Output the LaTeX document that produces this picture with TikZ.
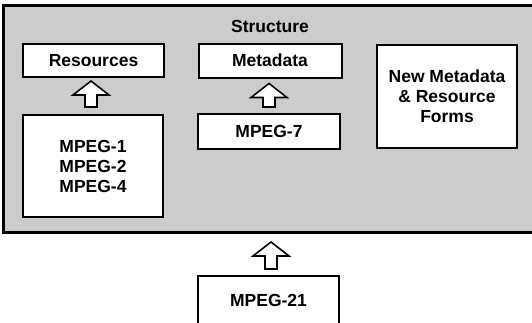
\documentclass[tikz,border=0pt]{standalone}
\usepackage{fontspec}
\setmainfont{Liberation Sans}
\usetikzlibrary{calc}
\tikzset{
  lbl/.style={font=\bfseries\fontsize{17.5}{20}\selectfont, text=black},
  wbox/.style={draw=black, line width=2pt, fill=white, inner sep=0pt, align=center,
    font=\bfseries\fontsize{17.5}{20}\selectfont},
  arrowshape/.style={draw=black, line width=1.6pt, fill=white, line join=miter},
}
\newcommand{\blockup}[2]{% #1 base coordinate, #2 tip coordinate
  \draw[arrowshape] let \p1=(#1), \p2=(#2) in
    (\x1-6pt,\y1) -- (\x1-6pt,\y2-14pt) -- (\x1-18pt,\y2-14pt) -- (\x1,\y2)
    -- (\x1+18pt,\y2-14pt) -- (\x1+6pt,\y2-14pt) -- (\x1+6pt,\y1) -- cycle;}
\begin{document}
\begin{tikzpicture}[x=1pt,y=-1pt]
\useasboundingbox (0,0) rectangle (532,322);
\clip (0,0) rectangle (532,322);
\fill[white] (0,0) rectangle (532,322);
% outer structure panel
\draw[line width=3pt, fill=gray!40] (3,5) rectangle (545,232);
\coordinate (panelbottom) at (271,232);
\node[lbl] (structure) at (270,26) {Structure};
% boxes
\node[wbox, minimum width=141pt, minimum height=33pt] (res) at (93.5,60.5) {Resources};
\node[wbox, minimum width=143pt, minimum height=34pt] (meta) at (270,60.5) {Metadata};
\node[wbox, minimum width=140pt, minimum height=103pt] (new) at (447,96.5)
  {New Metadata\\ \& Resource\\ Forms};
\node[wbox, minimum width=140pt, minimum height=102pt] (mpegA) at (93,166)
  {MPEG-1\\ MPEG-2\\ MPEG-4};
\node[wbox, minimum width=142pt, minimum height=35pt] (mpegB) at (269,131.5) {MPEG-7};
\node[wbox, minimum width=141pt, minimum height=57pt, anchor=north] (mpegC) at (268.5,275) {};
\node[lbl] (mpegCt) at (268.5,300) {MPEG-21};
% block arrows (base, tip)
\coordinate (a1b) at ($(mpegA.north)+(-2,-7)$);
\coordinate (a1t) at ($(res.south)+(-2.5,3)$);
\coordinate (a2b) at ($(mpegB.north)+(0,-6)$);
\coordinate (a2t) at ($(meta.south)+(-1,5)$);
\coordinate (a3b) at ($(mpegC.north)+(2.5,-6)$);
\coordinate (a3t) at ($(panelbottom)+(0,10)$);
\blockup{a1b}{a1t}
\blockup{a2b}{a2t}
\blockup{a3b}{a3t}
\end{tikzpicture}
\end{document}
